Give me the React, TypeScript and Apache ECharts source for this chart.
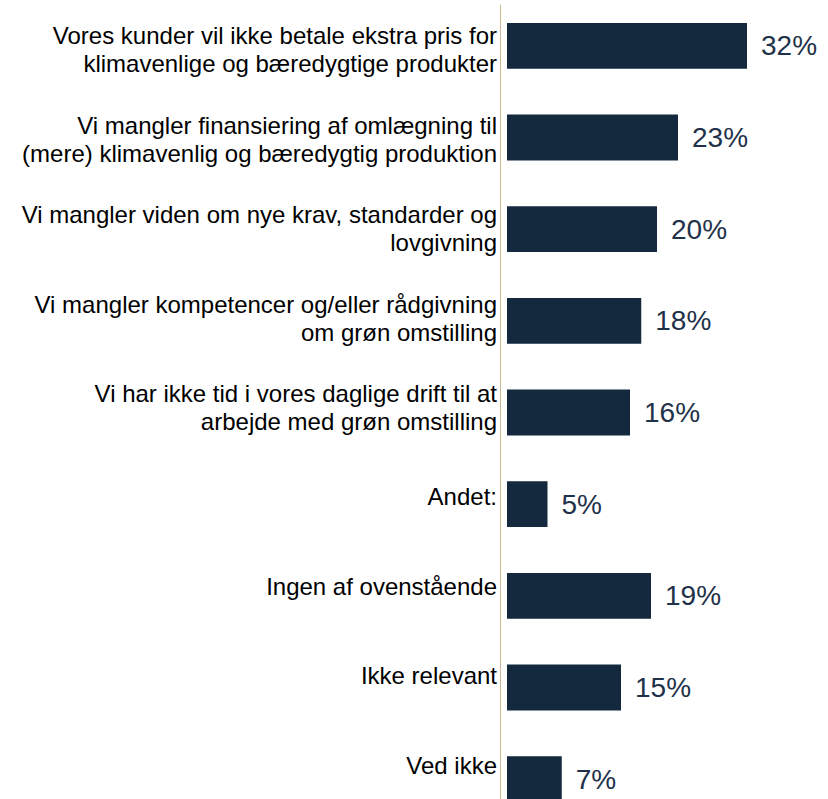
import React, { useEffect, useRef } from "react";
import * as echarts from "echarts";

const categories: string[] = [
  "Vores kunder vil ikke betale ekstra pris for\nklimavenlige og bæredygtige produkter",
  "Vi mangler finansiering af omlægning til\n(mere) klimavenlig og bæredygtig produktion",
  "Vi mangler viden om nye krav, standarder og\nlovgivning",
  "Vi mangler kompetencer og/eller rådgivning\nom grøn omstilling",
  "Vi har ikke tid i vores daglige drift til at\narbejde med grøn omstilling",
  "Andet:",
  "Ingen af ovenstående",
  "Ikke relevant",
  "Ved ikke",
];

// Share of respondents (%); labels show rounded values
const values: number[] = [32.0, 22.8, 20.0, 17.9, 16.4, 5.4, 19.2, 15.2, 7.3];

const FONT = "'Liberation Sans', Arial, Helvetica, sans-serif";
const BAR_COLOR = "#14283e";
const LABEL_COLOR = "#1f324a";
const AXIS_COLOR = "#cdb894";

export default function App() {
  const ref = useRef<HTMLDivElement>(null);

  useEffect(() => {
    if (!ref.current) return;
    const chart = echarts.init(ref.current, undefined, { renderer: "svg" });
    chart.setOption({
      animation: false,
      backgroundColor: "#ffffff",
      grid: [
        // bars
        { left: 500, right: 21, top: -2, height: 827, containLabel: false },
        // category labels + axis line (slightly tighter spacing, as in the original)
        { left: 500, right: 21, top: 5, height: 805, containLabel: false },
      ],
      xAxis: [
        { type: "value", gridIndex: 0, min: -0.9333, max: 40, show: false },
        { type: "value", gridIndex: 1, min: 0, max: 40, show: false },
      ],
      yAxis: [
        {
          type: "category",
          gridIndex: 0,
          inverse: true,
          data: categories,
          axisLine: { show: false },
          axisTick: { show: false },
          axisLabel: { show: false },
          splitLine: { show: false },
        },
        {
          type: "category",
          gridIndex: 1,
          inverse: true,
          data: categories,
          axisLine: { show: true, lineStyle: { color: AXIS_COLOR, width: 1 } },
          axisTick: { show: false },
          splitLine: { show: false },
          axisLabel: {
            margin: 3,
            fontFamily: FONT,
            fontSize: 24,
            lineHeight: 28,
            color: "#000000",
            align: "right",
          },
        },
      ],
      series: [
        {
          type: "bar",
          xAxisIndex: 0,
          yAxisIndex: 0,
          data: values,
          barCategoryGap: "50%",
          itemStyle: { color: BAR_COLOR },
          label: {
            show: true,
            position: "right",
            distance: 14,
            fontFamily: FONT,
            fontSize: 28,
            color: LABEL_COLOR,
            formatter: (p: any) => `${Math.round(p.value)}%`,
          },
        },
      ],
    });
    return () => chart.dispose();
  }, []);

  return (
    <div
      style={{
        position: "fixed",
        left: 0,
        top: 0,
        width: 828,
        height: 799,
        overflow: "hidden",
        background: "#ffffff",
      }}
    >
      <div ref={ref} style={{ width: 828, height: 830 }} />
    </div>
  );
}
